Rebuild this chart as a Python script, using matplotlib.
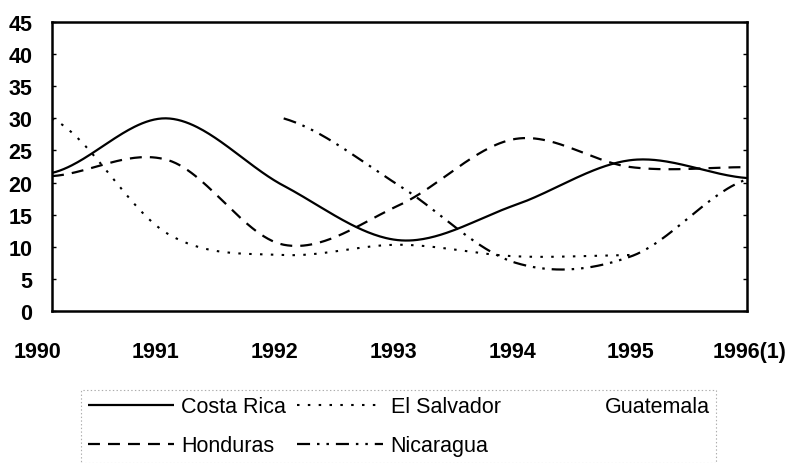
import numpy as np
import matplotlib
matplotlib.use("Agg")
import matplotlib.pyplot as plt
import matplotlib.transforms as mtransforms
from matplotlib.lines import Line2D

plt.rcParams['font.family'] = ['Liberation Sans', 'DejaVu Sans']
plt.rcParams['lines.scale_dashes'] = False

# ---- data ----
years = [1990, 1991, 1992, 1993, 1994, 1995, 1996]
year_labels = ["1990", "1991", "1992", "1993", "1994", "1995", "1996(1)"]
costa_rica = [21.5, 30.0, 19.5, 11.0, 16.5, 23.5, 20.7]
el_salvador = [30.0, 12.0, 8.7, 10.3, 8.5, 8.7, None]
guatemala = [None, None, None, None, None, None, None]
honduras = [21.0, 23.5, 10.3, 16.5, 26.8, 22.4, 22.4]
nicaragua = [None, None, 30.0, 19.5, 7.5, 8.5, 20.5]
y_ticks = [0, 5, 10, 15, 20, 25, 30, 35, 40, 45]


def smooth(xs, ys, n=60):
    """Catmull-Rom smoothing through the points (spreadsheet-style smoothed line)."""
    pts = [(x, y) for x, y in zip(xs, ys) if y is not None]
    if len(pts) < 2:
        return [], []
    px = np.array([p[0] for p in pts], float)
    py = np.array([p[1] for p in pts], float)
    ox, oy = [], []
    m = len(px)
    for i in range(m - 1):
        y0 = py[i - 1] if i > 0 else py[i]
        y3 = py[i + 2] if i + 2 < m else py[i + 1]
        y1, y2 = py[i], py[i + 1]
        t1 = (y2 - y0) / 2.0
        t2 = (y3 - y1) / 2.0
        t = np.linspace(0, 1, n)
        h00 = 2 * t**3 - 3 * t**2 + 1
        h10 = t**3 - 2 * t**2 + t
        h01 = -2 * t**3 + 3 * t**2
        h11 = t**3 - t**2
        ox.extend(px[i] + t * (px[i + 1] - px[i]))
        oy.extend(h00 * y1 + h10 * t1 + h01 * y2 + h11 * t2)
    return ox, oy


fig = plt.figure(figsize=(7.88, 4.64), dpi=100)
ax = fig.add_axes([0.066, 0.328, 0.882, 0.622])

lw = 1.6
styles = {
    'Costa Rica': dict(linestyle='-', linewidth=lw),
    'El Salvador': dict(linestyle=(0, (1.8, 6.0)), linewidth=1.5),
    'Honduras': dict(linestyle=(0, (8.6, 5.8)), linewidth=lw),
    'Nicaragua': dict(linestyle=(0, (9.4, 5.0, 1.8, 5.0, 1.8, 5.0)), linewidth=lw),
}
series = {
    'Costa Rica': costa_rica,
    'El Salvador': el_salvador,
    'Honduras': honduras,
    'Nicaragua': nicaragua,
}
handles = {}
for name, vals in series.items():
    sx, sy = smooth(years, vals)
    ln, = ax.plot(sx, sy, color='black', solid_capstyle='butt', **styles[name])
    handles[name] = ln
handles['Guatemala'] = Line2D([], [], color='none', linestyle='none')

ax.set_xlim(1990, 1996)
ax.set_ylim(0, 45)
ax.set_yticks(y_ticks)
ax.set_yticklabels([str(v) for v in y_ticks], fontsize=15.5, fontweight='bold')
ax.set_xticks(years)
ax.set_xticklabels(year_labels, fontsize=15.5, fontweight='bold')
ax.tick_params(axis='x', length=0, pad=22)
ax.tick_params(axis='y', direction='in', length=3, width=1, pad=14, right=True)
for sp in ax.spines.values():
    sp.set_linewidth(1.8)
    sp.set_color('black')

# category labels are spread slightly wider than the plotting area, as in the original
label_shift_px = [-15, -12, -9, -6, -3, -1, 3]
for lab, dx in zip(ax.get_xticklabels(), label_shift_px):
    lab.set_transform(lab.get_transform() +
                      mtransforms.ScaledTranslation(dx / 100.0, 0, fig.dpi_scale_trans))

order = ['Costa Rica', 'Honduras', 'El Salvador', 'Nicaragua', 'Guatemala']
leg = fig.legend([handles[k] for k in order], order, ncol=3,
                 loc='upper left', bbox_to_anchor=(0.103, 0.158),
                 fontsize=15.5, handlelength=4.0, handletextpad=0.35,
                 columnspacing=0.5, labelspacing=0.85, borderpad=0.3,
                 frameon=True, fancybox=False, borderaxespad=0.0)
fr = leg.get_frame()
fr.set_edgecolor('#999999')
fr.set_linewidth(0.8)
fr.set_linestyle(':')

fig.savefig('out.png', dpi=100)
